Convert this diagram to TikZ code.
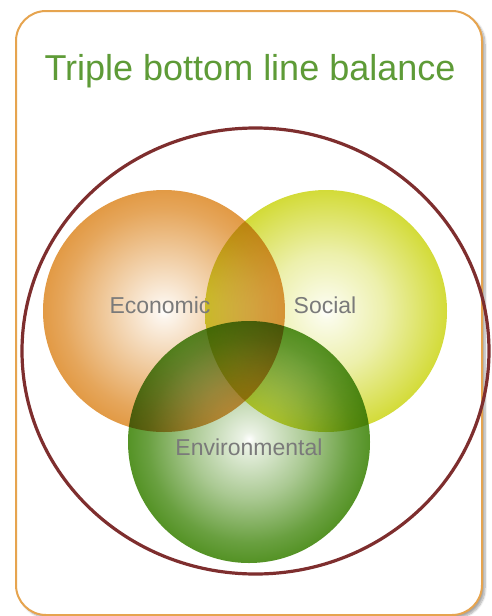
\documentclass[tikz,border=0pt]{standalone}
\usepackage{fontspec}
\setmainfont{Liberation Sans}
\usetikzlibrary{shadows.blur, shapes.geometric}

\definecolor{boxorange}{HTML}{E6A44F}
\definecolor{titlegreen}{HTML}{5E9B37}
\definecolor{ringred}{HTML}{7E2E2E}
\definecolor{econ}{HTML}{E29A45}
\definecolor{social}{HTML}{D3DB38}
\definecolor{enviro}{HTML}{559326}
\definecolor{labelgray}{HTML}{7A7A7A}

% soft radial fills, white in the middle (rim at 25bp)
\pgfdeclareradialshading{econshade}{\pgfpoint{0bp}{0bp}}{color(0bp)=(white); color(1.5bp)=(econ!10); color(12bp)=(econ!52); color(21bp)=(econ!88); color(25bp)=(econ); color(50bp)=(econ)}
\pgfdeclareradialshading{socialshade}{\pgfpoint{0bp}{0bp}}{color(0bp)=(white); color(1.5bp)=(social!10); color(12bp)=(social!42); color(21bp)=(social!82); color(25bp)=(social); color(50bp)=(social)}
\pgfdeclareradialshading{enviroshade}{\pgfpoint{0bp}{0.6bp}}{color(0bp)=(white); color(1.5bp)=(enviro!12); color(12bp)=(enviro!50); color(21bp)=(enviro!88); color(25bp)=(enviro); color(50bp)=(enviro)}

\begin{document}
\begin{tikzpicture}[x = 1pt, y = -1pt, % pixel-like units
                line join = round
            ]

            \tikzstyle{bubble}=[circle, minimum size = 242pt, inner sep = 0pt]
            \tikzstyle{tag}=[text = labelgray, font = \fontsize{23}{26}\selectfont]

            \useasboundingbox (0,0) rectangle (491,616);

            % card with its shadow
            \draw[boxorange, line width = 2pt, rounded corners = 30pt, fill = white,
                blur shadow = {shadow xshift = 3pt, shadow yshift = -3pt,
                shadow opacity = 35, shadow blur steps = 8}]
                (16,11) rectangle (482,615);

            \node (title) [anchor = base, text = titlegreen,
                font = \fontsize{36}{40}\selectfont] at (250,80)
                {Triple bottom line balance};

            % the three circles, mixed by multiplying
            \begin{scope}[blend group = multiply]
                \node (econ) [bubble, shading = econshade] at (164,311) {};
                \node (social) [bubble, shading = socialshade] at (326,311) {};
                \node (enviro) [bubble, shading = enviroshade] at (249,442) {};
            \end{scope}

            \node (ring) [ellipse, draw = ringred, line width = 3.2pt,
                minimum width = 467pt, minimum height = 446pt, inner sep = 0pt]
                at (255.5,351) {};

            \node (econtag) [tag] at (160,305) {Economic};
            \node (socialtag) [tag] at (325,305) {Social};
            \node (envirotag) [tag] at (249,447) {Environmental};
\end{tikzpicture}
\end{document}
